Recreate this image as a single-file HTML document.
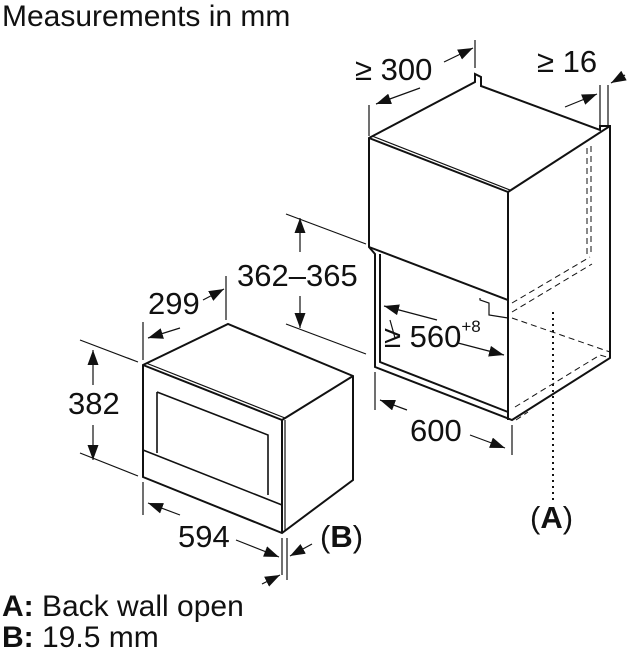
<!DOCTYPE html>
<html><head><meta charset="utf-8"><style>
html,body{margin:0;padding:0;background:#fff;}
svg{display:block;}
text{font-family:"Liberation Sans",Arial,sans-serif;fill:#111;}
</style></head><body>
<svg width="632" height="656" viewBox="0 0 632 656" xmlns="http://www.w3.org/2000/svg">
<defs>
<marker id="a" markerWidth="15" markerHeight="11" refX="15" refY="5.5" orient="auto" markerUnits="userSpaceOnUse">
<path d="M0,0 L15,5.5 L0,11 Z" fill="#111"/></marker>
</defs>
<g stroke="#111" fill="none" stroke-width="1.2">
<!-- cabinet -->
<path d="M369,138 L475,82 L475,74 L481,77 L481,86 L600,130 L600,126 L610,126 L610,358 L512,420 L375,367 L375,254 L369,247 Z" fill="#fff" stroke-width="2"/>
<path d="M369,138 L508,192 L508,300 L369,247" stroke-width="2"/>
<path d="M372,136 L510,190" />
<path d="M508,192 L610,126" stroke-width="2"/>
<path d="M508,300 L508,420" stroke-width="2"/>
<path d="M380,254 L380,362 L508,412" stroke-width="2"/>
<path d="M480,298 L480,300 L489,303 L489,315 L508,318" />
<g stroke-dasharray="6,4" stroke-width="1">
<path d="M587,148 L587,254 M591,146 L591,256"/>
<path d="M512,303 L590,257 M512,312 L592,264"/>
<path d="M512,318 L610,352 M515,407 L600,355 L610,358"/>
<path d="M516,420 L528,412"/>
</g>
<path d="M553,312 L553,500" stroke-dasharray="2,4" stroke-width="2"/>
<!-- cabinet dims -->
<path d="M369,136 L369,105 M475,68 L475,40 M600,126 L600,85 M608,126 L608,85" />
<path d="M420,88 L376,104" marker-end="url(#a)"/>
<path d="M444,62 L473,48" marker-end="url(#a)"/>
<path d="M565,107 L597,94" marker-end="url(#a)"/>
<path d="M625,75 L611,83" marker-end="url(#a)"/>
<path d="M437,320 L384,306" marker-end="url(#a)"/>
<path d="M458,343 L504,355" marker-end="url(#a)"/>
<path d="M390,320 L395,338"/>
<path d="M375,372 L375,410 M512,425 L512,455"/>
<path d="M407,410 L380,400" marker-end="url(#a)"/>
<path d="M470,435 L505,448" marker-end="url(#a)"/>
<path d="M286,214 L366,244 M286,324 L366,354"/>
<path d="M300,252 L300,218" marker-end="url(#a)"/>
<path d="M300,296 L300,328" marker-end="url(#a)"/>
<!-- microwave -->
<path d="M143,365 L228,324 L353,376 L353,480 L282,533 L143,477 Z" fill="#fff" stroke-width="2"/>
<path d="M143,365 L282,420 L282,533 M282,420 L353,376" stroke-width="2"/>
<path d="M146,363 L285,418 M285,420 L285,531" />
<path d="M157,392 L157,453 M157,392 L268,435 L268,495 M143,450 L282,505" stroke-width="1.6"/>
<!-- microwave dims -->
<path d="M143,360 L143,322 M226,320 L226,276 M143,482 L143,515 M282,538 L282,575 M287,538 L287,580"/>
<path d="M80,340 L138,362 M80,453 L138,476"/>
<path d="M93,385 L93,350" marker-end="url(#a)"/>
<path d="M93,425 L93,460" marker-end="url(#a)"/>
<path d="M180,328 L148,338" marker-end="url(#a)"/>
<path d="M203,300 L224,289" marker-end="url(#a)"/>
<path d="M180,515 L148,503" marker-end="url(#a)"/>
<path d="M236,540 L279,557" marker-end="url(#a)"/>
<path d="M312,544 L290,556" marker-end="url(#a)"/>
<path d="M262,584 L280,575" marker-end="url(#a)"/>
</g>
<rect x="66" y="390" width="56" height="28" fill="#fff"/>
<g font-size="31">
<text x="2" y="26" font-size="30">Measurements in mm</text>
<text x="355" y="80">≥ 300</text>
<text x="537" y="72">≥ 16</text>
<text x="237" y="286">362–365</text>
<text x="148" y="314">299</text>
<text x="384" y="347">≥ 560<tspan font-size="17" dy="-15">+8</tspan></text>
<text x="68" y="414">382</text>
<text x="410" y="441">600</text>
<text x="178" y="547">594</text>
<text x="320" y="547">(<tspan font-weight="bold">B</tspan>)</text>
<text x="530" y="528">(<tspan font-weight="bold">A</tspan>)</text>
<text x="2" y="616" font-size="30"><tspan font-weight="bold">A:</tspan> Back wall open</text>
<text x="2" y="647" font-size="30"><tspan font-weight="bold">B:</tspan> 19.5 mm</text>
</g>
</svg>
</body></html>
